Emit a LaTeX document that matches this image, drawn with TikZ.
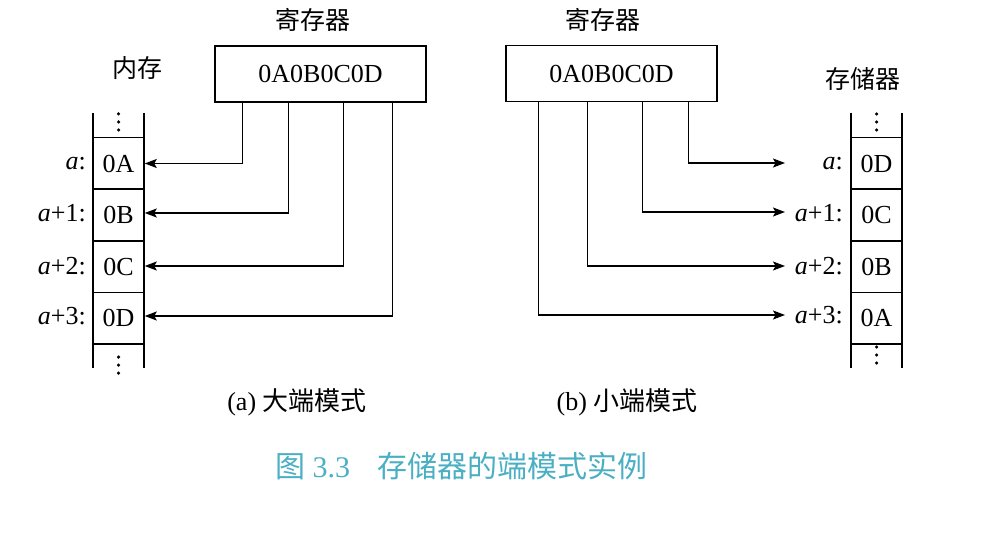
\documentclass[tikz,border=0pt]{standalone}
\usepackage{fontspec}
\setmainfont{Liberation Serif}
\newfontfamily\cjk{Noto Sans CJK SC}
\usetikzlibrary{arrows.meta,calc}
\definecolor{captcol}{HTML}{4BAFC4}
\tikzset{
  cell/.style={draw,line width=1.5pt,minimum width=51pt,minimum height=51.5pt,inner sep=0pt,font=\fontsize{26}{30}\selectfont},
  reg/.style={draw,line width=1.5pt,minimum width=211pt,minimum height=56pt,inner sep=0pt,font=\fontsize{26}{30}\selectfont},
  lbl/.style={inner sep=0pt,font=\fontsize{26}{30}\selectfont},
  cjklbl/.style={inner sep=0pt,font=\fontsize{25}{30}\selectfont\cjk},
  conn/.style={line width=1.5pt,-{Stealth[length=12pt,width=9pt,inset=2.5pt]}},
  side/.style={line width=1.5pt},
  dot/.style={fill,circle,inner sep=0pt,minimum size=3.5pt}
}
\begin{document}
\begin{tikzpicture}[x=1pt,y=-1pt]
\useasboundingbox (0,0) rectangle (992,537);
% ---------- left (big endian) ----------
\node[cjklbl] (titL) at (313,20) {寄存器};
\node[reg] (regL) at (320.5,74) {0A0B0C0D};
\node[cjklbl] (memL) at (137,68) {内存};
\node[cell] (L0) at (118.5,163.5) {0A};
\node[cell] (L1) at (118.5,215) {0B};
\node[cell] (L2) at (118.5,266.5) {0C};
\node[cell] (L3) at (118.5,318) {0D};
\draw[side] (93,113) -- (93,368) (144,113) -- (144,368);
\node[dot] (dl1) at (118.5,114) {};
\node[dot] (dl2) at (118.5,122) {};
\node[dot] (dl3) at (118.5,130) {};
\node[dot] (dl4) at (118.5,357) {};
\node[dot] (dl5) at (118.5,365) {};
\node[dot] (dl6) at (118.5,373) {};
\node[lbl,anchor=east] (la0) at (86,163.5) {\textit{a}:};
\node[lbl,anchor=east] (la1) at (86,213) {\textit{a}+1:};
\node[lbl,anchor=east] (la2) at (86,266) {\textit{a}+2:};
\node[lbl,anchor=east] (la3) at (86,316) {\textit{a}+3:};
\draw[conn] ($(regL.south west)+(28,0)$) |- (L0.east);
\draw[conn] ($(regL.south west)+(74,0)$) |- ($(L1.east)+(0,-2)$);
\draw[conn] ($(regL.south west)+(129,0)$) |- ($(L2.east)+(0,-0.5)$);
\draw[conn] ($(regL.south west)+(178,0)$) |- ($(L3.east)+(0,-2)$);
\node[lbl] (capA) at (297,402) {(a) {\cjk 大端模式}};
% ---------- right (little endian) ----------
\node[cjklbl] (titR) at (603,20) {寄存器};
\node[reg] (regR) at (611.5,73.5) {0A0B0C0D};
\node[cjklbl] (memR) at (863,79) {存储器};
\node[cell] (R0) at (876.5,163.5) {0D};
\node[cell] (R1) at (876.5,215) {0C};
\node[cell] (R2) at (876.5,266.5) {0B};
\node[cell] (R3) at (876.5,318) {0A};
\draw[side] (851,113) -- (851,368) (902,113) -- (902,368);
\node[dot] (dr1) at (876.5,114) {};
\node[dot] (dr2) at (876.5,122) {};
\node[dot] (dr3) at (876.5,130) {};
\node[dot] (dr4) at (876.5,347) {};
\node[dot] (dr5) at (876.5,355) {};
\node[dot] (dr6) at (876.5,363) {};
\node[lbl,anchor=east] (ra0) at (843,163.5) {\textit{a}:};
\node[lbl,anchor=east] (ra1) at (843,213) {\textit{a}+1:};
\node[lbl,anchor=east] (ra2) at (843,266) {\textit{a}+2:};
\node[lbl,anchor=east] (ra3) at (843,315) {\textit{a}+3:};
\coordinate (e0) at (785,163);
\coordinate (e1) at (785,212);
\coordinate (e2) at (785,266);
\coordinate (e3) at (785,315);
\draw[conn] ($(regR.south west)+(183,0)$) |- (e0);
\draw[conn] ($(regR.south west)+(137,0)$) |- (e1);
\draw[conn] ($(regR.south west)+(82,0)$) |- (e2);
\draw[conn] ($(regR.south west)+(33,0)$) |- (e3);
\node[lbl] (capB) at (627,402) {(b) {\cjk 小端模式}};
% ---------- caption ----------
\node[inner sep=0pt,text=captcol,font=\fontsize{30}{34}\selectfont] (cap) at (461,466) {{\cjk 图} 3.3\hspace{0.9em}{\cjk 存储器的端模式实例}};
\end{tikzpicture}
\end{document}
